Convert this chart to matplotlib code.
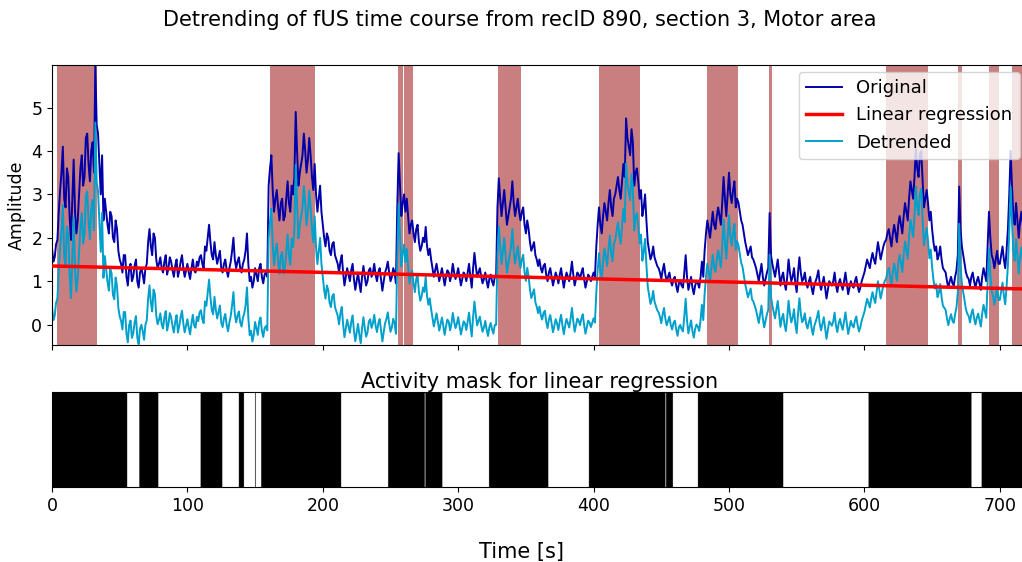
import numpy as np
import matplotlib
matplotlib.use("Agg")
import matplotlib.pyplot as plt

# ---------------- data ----------------
sample_interval = 1.0  # seconds between samples
# samples at even seconds (0, 2, 4, ...)
original_even = [
    1.75, 1.55, 1.95, 3.1, 4.1, 2.7, 3.4, 1.95, 3.8, 2.1,
    3.0, 3.9, 3.4, 4.4, 3.3, 4.2, 5.98, 4.4, 3.0, 2.4,
    2.6, 2.1, 2.5, 1.9, 2.2, 1.5, 1.2, 1.6, 0.9, 1.4,
    1.1, 1.5, 0.85, 1.3, 0.95, 1.4, 2.2, 1.6, 2.0, 1.3,
    1.55, 1.2, 1.6, 1.3, 1.45, 1.1, 1.5, 1.25, 1.6, 1.1,
    1.4, 1.05, 1.5, 1.2, 1.35, 1.6, 1.3, 1.7, 2.3, 1.6,
    1.9, 1.4, 1.7, 1.2, 1.5, 1.1, 1.45, 2.0, 1.3, 1.55,
    1.2, 1.5, 2.1, 1.0, 0.85, 1.3, 1.0, 1.4, 0.95, 1.2,
    3.2, 3.9, 2.6, 3.1, 2.4, 2.9, 2.5, 3.3, 2.6, 3.0,
    4.9, 3.2, 3.7, 4.4, 3.5, 4.3, 3.4, 3.7, 2.6, 3.2,
    2.3, 1.8, 2.0, 1.6, 1.9, 1.5, 1.2, 1.6, 0.9, 1.3,
    1.0, 1.4, 0.8, 1.2, 0.75, 1.35, 0.9, 1.25, 1.1, 1.4,
    1.0, 1.3, 0.78, 1.2, 1.45, 1.0, 1.3, 0.95, 3.95, 2.5,
    3.0, 2.9, 2.1, 2.4, 1.9, 2.3, 1.7, 2.0, 2.25, 1.6,
    1.5, 1.1, 1.4, 1.0, 1.3, 0.9, 1.25, 1.0, 1.4, 1.05,
    1.3, 0.9, 1.2, 1.0, 1.4, 0.85, 1.65, 1.1, 1.3, 0.95,
    1.2, 0.85, 1.15, 0.9, 1.1, 3.37, 2.5, 3.1, 2.3, 2.7,
    3.3, 2.5, 2.9, 2.4, 2.7, 2.1, 2.2, 1.7, 1.9, 1.5,
    1.5, 1.2, 1.4, 1.0, 1.3, 0.9, 1.2, 0.95, 1.3, 0.85,
    1.2, 1.0, 1.45, 0.9, 1.2, 1.05, 1.3, 0.85, 1.15, 1.0,
    1.2, 1.8, 2.7, 2.1, 2.8, 2.4, 3.1, 2.5, 3.0, 3.4,
    2.9, 3.7, 4.75, 4.1, 4.5, 3.2, 3.6, 2.9, 2.5, 3.0,
    1.9, 1.5, 1.8, 1.45, 1.3, 1.05, 1.4, 1.0, 1.2, 0.9,
    1.1, 0.75, 1.0, 0.85, 1.6, 0.8, 1.1, 0.7, 1.0, 0.85,
    1.45, 1.7, 2.4, 2.0, 2.6, 2.2, 2.7, 2.3, 3.4, 2.5,
    3.5, 2.8, 3.3, 2.9, 2.6, 2.3, 1.9, 1.6, 1.8, 1.5,
    1.3, 1.0, 1.4, 0.9, 1.2, 2.57, 1.4, 1.1, 1.5, 0.9,
    1.2, 0.8, 1.5, 1.0, 1.3, 0.75, 1.55, 1.0, 1.2, 0.85,
    1.1, 0.7, 1.0, 1.25, 0.8, 1.1, 0.6, 1.0, 0.9, 1.2,
    0.75, 1.05, 0.8, 1.2, 0.7, 1.0, 0.85, 1.1, 0.75, 1.0,
    1.2, 1.5, 1.3, 1.65, 1.4, 1.9, 1.5, 1.8, 1.95, 2.2,
    1.8, 2.3, 1.9, 2.5, 2.1, 2.8, 2.4, 3.3, 2.9, 4.06,
    3.4, 4.0, 2.7, 3.1, 2.4, 2.2, 1.7, 1.5, 1.8, 1.3,
    1.2, 0.85, 1.1, 0.9, 1.25, 3.18, 1.8, 1.4, 1.1, 0.9,
    1.2, 0.85, 1.1, 0.8, 1.3, 1.0, 2.6, 1.6, 1.3, 1.7,
    1.4, 1.8, 1.3, 2.2, 4.0, 2.5, 2.8, 2.0, 2.6, 2.2,
]
# samples at odd seconds (1, 3, 5, ...)
original_odd = [
    1.45, 1.85, 2.6, 3.5, 2.9, 3.6, 2.5, 2.9, 2.6, 2.4,
    3.6, 3.2, 4.3, 3.7, 4.0, 3.5, 4.6, 3.7, 3.9, 2.9,
    2.3, 2.6, 2.0, 2.4, 1.7, 1.4, 1.6, 1.1, 1.3, 1.0,
    1.35, 1.0, 1.2, 1.15, 1.3, 1.9, 1.8, 2.1, 1.5, 1.4,
    1.3, 1.45, 1.15, 1.55, 1.25, 1.35, 1.1, 1.45, 1.3, 1.25,
    1.2, 1.3, 1.25, 1.45, 1.55, 1.4, 1.8, 2.0, 1.9, 1.5,
    1.6, 1.55, 1.3, 1.4, 1.25, 1.3, 1.7, 1.5, 1.45, 1.3,
    1.4, 1.7, 1.4, 1.1, 1.0, 1.15, 1.3, 1.1, 1.15, 1.1,
    3.6, 3.1, 2.9, 2.7, 2.8, 2.4, 2.9, 2.8, 3.2, 3.4,
    4.0, 3.5, 3.9, 4.0, 3.8, 3.9, 3.1, 3.0, 2.9, 2.6,
    2.0, 2.1, 1.7, 1.85, 1.6, 1.4, 1.45, 1.2, 1.1, 1.15,
    1.25, 1.05, 1.0, 0.95, 1.1, 1.1, 1.0, 1.3, 1.2, 1.15,
    1.2, 1.05, 1.0, 1.3, 1.2, 1.1, 1.2, 2.7, 3.2, 2.8,
    2.6, 2.5, 2.3, 2.1, 2.2, 1.9, 1.8, 1.9, 1.8, 1.75,
    1.3, 1.25, 1.2, 1.15, 1.1, 1.1, 1.2, 1.15, 1.2, 1.15,
    1.1, 1.05, 1.15, 1.2, 1.1, 1.3, 1.35, 1.2, 1.1, 1.05,
    1.0, 1.05, 1.0, 1.1, 2.7, 2.9, 2.8, 2.7, 2.5, 2.9,
    2.8, 2.7, 2.6, 2.6, 2.3, 2.4, 1.9, 1.8, 1.6, 1.35,
    1.3, 1.35, 1.15, 1.2, 1.1, 1.05, 1.1, 1.15, 1.05, 1.05,
    1.1, 1.2, 1.15, 1.05, 1.15, 1.2, 1.05, 1.0, 1.1, 1.1,
    1.1, 2.3, 2.3, 2.5, 2.6, 2.8, 2.7, 2.9, 3.2, 3.1,
    3.3, 3.4, 4.3, 3.9, 4.2, 3.5, 3.3, 3.1, 2.7, 2.4,
    1.7, 1.6, 1.55, 1.35, 1.2, 1.25, 1.15, 1.1, 1.0, 1.05,
    0.9, 0.95, 0.9, 1.2, 1.1, 0.95, 0.85, 0.9, 0.95, 1.1,
    1.1, 2.1, 2.2, 2.3, 2.3, 2.5, 2.5, 2.8, 2.9, 3.0,
    3.0, 3.1, 2.7, 2.8, 2.4, 2.1, 1.75, 1.7, 1.55, 1.4,
    1.15, 1.2, 1.1, 1.05, 1.3, 1.6, 1.25, 1.3, 1.2, 1.1,
    0.95, 1.1, 1.2, 1.1, 0.95, 1.2, 1.2, 1.05, 0.95, 1.0,
    0.85, 0.9, 1.1, 0.95, 0.95, 0.85, 0.8, 0.95, 1.0, 0.9,
    0.95, 0.9, 1.0, 0.95, 0.85, 0.9, 1.0, 0.9, 0.85, 1.1,
    1.35, 1.4, 1.5, 1.5, 1.65, 1.7, 1.65, 1.9, 2.1, 2.0,
    2.1, 2.1, 2.3, 2.3, 2.5, 2.6, 2.9, 3.1, 3.4, 3.6,
    3.9, 3.3, 2.9, 2.8, 2.6, 1.9, 1.8, 1.6, 1.5, 1.25,
    1.0, 1.0, 0.95, 1.1, 1.6, 2.2, 1.6, 1.2, 1.05, 1.1,
    1.0, 1.0, 0.95, 1.1, 1.15, 1.8, 2.0, 1.5, 1.5, 1.4,
    1.6, 1.5, 1.7, 3.0, 3.2, 2.3, 2.4, 2.4, 2.3, 2.5,
]
# linear regression line end values
trend_start = 1.35
trend_end = 0.82

# stimulus periods (red shading), seconds
stim_starts = [3.8, 161.1, 255.3, 259.8, 329.3, 403.7, 483.8, 529.2, 615.6, 668.9, 692.2, 708.8]
stim_ends = [33.4, 194.5, 259.2, 266.9, 346.5, 434.2, 506.3, 531.6, 646.8, 672.2, 699.7, 725.0]

# activity mask (black) intervals, seconds
mask_starts = [0.0, 64.5, 109.8, 137.9, 150.0, 154.4, 248.2, 275.8, 322.7, 396.6, 453.5, 476.9, 602.9, 686.4]
mask_ends = [55.6, 78.5, 125.8, 141.8, 150.5, 213.4, 275.3, 288.3, 366.5, 453.0, 458.4, 540.1, 679.1, 720.0]

x_max = 720.0
y_limits = (-0.47, 5.98)

# ---------------- derived ----------------
original = np.empty(len(original_even) + len(original_odd))
original[0::2] = original_even
original[1::2] = original_odd
time = np.arange(len(original)) * sample_interval
trend = trend_start + (trend_end - trend_start) * time / time[-1]
detrended = original - trend

mask_res = 0.25
mask_t = np.arange(0, x_max, mask_res) + mask_res / 2
mask = np.zeros_like(mask_t)
for s, e in zip(mask_starts, mask_ends):
    mask[(mask_t >= s) & (mask_t < e)] = 1.0

# ---------------- figure ----------------
fig = plt.figure(figsize=(10.22, 5.62), dpi=100)
W, H = 1022, 562
px_per_s = 1.354
left = 52 / W
width = x_max * px_per_s / W

ax1 = fig.add_axes([left, (H - 345) / H, width, (345 - 65) / H])
ax2 = fig.add_axes([left, (H - 487) / H, width, (487 - 392) / H])

for s, e in zip(stim_starts, stim_ends):
    ax1.axvspan(s, e, color="brown", alpha=0.6, lw=0, zorder=0)

ax1.plot(time, original, color="#0000AA", lw=1.4, label="Original", zorder=2)
ax1.plot(time, trend, color="red", lw=2.5, label="Linear regression", zorder=3)
ax1.plot(time, detrended, color="#00A0CC", lw=1.4, label="Detrended", zorder=2)

ax1.set_xlim(0, x_max)
ax1.set_ylim(*y_limits)
ax1.set_yticks([0, 1, 2, 3, 4, 5])
ax1.set_xticks(np.arange(0, 701, 100))
ax1.tick_params(axis="x", labelbottom=False)
ax1.tick_params(axis="y", labelsize=12.5)
ax1.set_ylabel("Amplitude", fontsize=12.5)
ax1.legend(loc="upper right", fontsize=13, borderaxespad=0.4)

ax2.imshow(mask[np.newaxis, :], aspect="auto", cmap="gray_r",
           extent=[0, x_max, 0, 1], vmin=0, vmax=1, interpolation="antialiased")
ax2.set_xlim(0, x_max)
ax2.set_yticks([])
ax2.set_xticks(np.arange(0, 701, 100))
ax2.tick_params(axis="x", labelsize=12.5)
ax2.set_title("Activity mask for linear regression", fontsize=15, pad=3)

fig.text(0.509, 1 - 20 / H, "Detrending of fUS time course from recID 890, section 3, Motor area",
         ha="center", va="center", fontsize=15)
fig.text(521 / W, 1 - 552 / H, "Time [s]", ha="center", va="center", fontsize=15)

fig.savefig("out.png", dpi=100)
